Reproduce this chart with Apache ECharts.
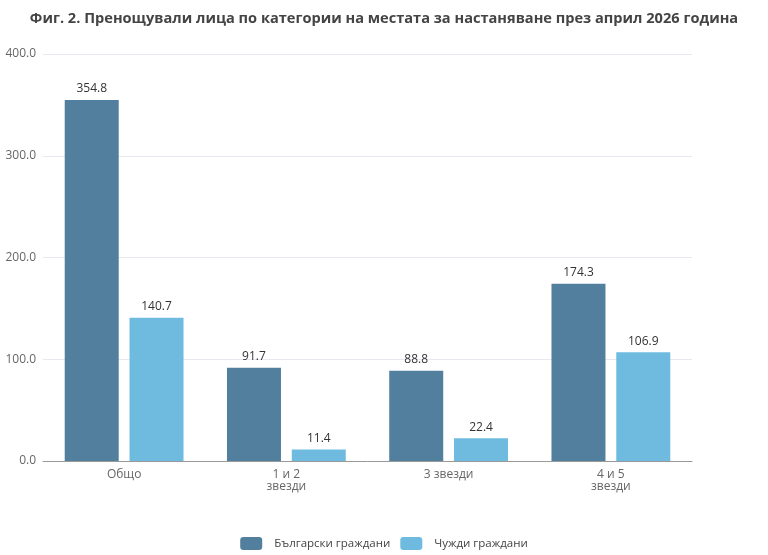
<!DOCTYPE html>
<html><head><meta charset="utf-8">
<script src="https://cdn.jsdelivr.net/npm/echarts@6/dist/echarts.min.js"></script>
<style>html,body{margin:0;padding:0;background:#fff}#c{width:768px;height:555px}</style>
</head><body><div id="c"></div>
<script>
const titleText = 'Фиг. 2. Пренощували лица по категории на местата за настаняване през април 2026 година';
const categories = ['Общо', '1 и 2\nзвезди', '3 звезди', '4 и 5\nзвезди'];
const seriesNames = ['Български граждани', 'Чужди граждани'];
const bulgarians = [354.8, 91.7, 88.8, 174.3];
const foreigners = [140.7, 11.4, 22.4, 106.9];
const yTicks = [0, 100, 200, 300, 400];

const font = '"Open Sans", "DejaVu Sans", sans-serif';
const chart = echarts.init(document.getElementById('c'), null, {renderer: 'canvas'});
chart.setOption({
  animation: false,
  title: {text: titleText, left: 'center', top: 6,
    textStyle: {fontFamily: font, fontSize: 14.6, fontWeight: 'bold', color: '#444'}},
  legend: {bottom: 0, left: 'center', itemWidth: 22, itemHeight: 13, itemGap: 10,
    icon: 'roundRect',
    textStyle: {fontFamily: font, fontSize: 11.5, color: '#444', padding: [0, 0, 0, 7]}, data: seriesNames},
  grid: {left: 43, right: 76, top: 54, bottom: 94},
  xAxis: {type: 'category', data: categories,
    axisLine: {lineStyle: {color: '#999'}},
    axisTick: {lineStyle: {color: '#999'}, length: 5},
    axisLabel: {fontFamily: font, fontSize: 12, color: '#666', lineHeight: 12, margin: 8}},
  yAxis: {type: 'value', min: yTicks[0], max: yTicks[yTicks.length - 1], interval: 100,
    axisLabel: {fontFamily: font, fontSize: 12, color: '#666', formatter: v => v.toFixed(1), margin: 7},
    splitLine: {lineStyle: {color: '#e8e8f0'}},
    axisLine: {show: false}, axisTick: {show: false}},
  series: [
    {name: seriesNames[0], type: 'bar', data: bulgarians, barWidth: 54, barGap: '20%',
     itemStyle: {color: '#537f9e'},
     label: {show: true, position: 'top', distance: 5, fontFamily: font, fontSize: 12, color: '#333', formatter: p => p.value.toFixed(1)}},
    {name: seriesNames[1], type: 'bar', data: foreigners, barWidth: 54,
     itemStyle: {color: '#6fbbe0'},
     label: {show: true, position: 'top', distance: 5, fontFamily: font, fontSize: 12, color: '#333', formatter: p => p.value.toFixed(1)}}
  ]
});
</script></body></html>
